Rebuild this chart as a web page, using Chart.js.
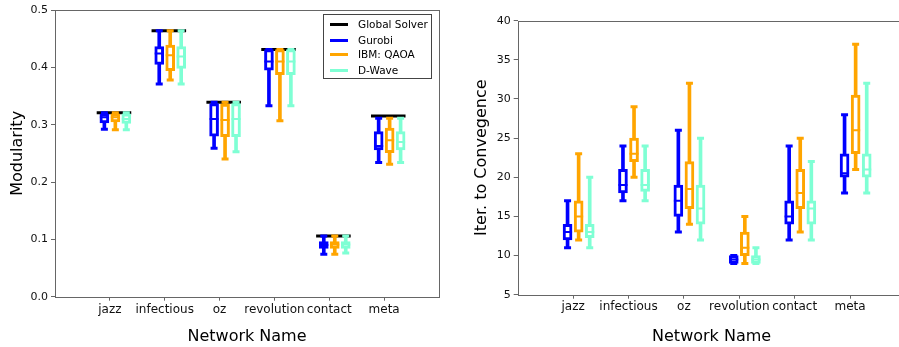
<!DOCTYPE html>
<html>
<head>
<meta charset="utf-8">
<script src="https://cdn.jsdelivr.net/npm/chart.js@4.4.1/dist/chart.umd.min.js"></script>
<style>
  body { margin: 0; width: 899px; height: 347px; overflow: hidden; background: #fff; position: relative; }
  #leftBox { position: absolute; left: 0; top: 0; width: 450px; height: 347px; }
  #rightBox { position: absolute; left: 450px; top: 0; width: 470px; height: 347px; }
  #legend { position: absolute; left: 323px; top: 14px; width: 109px; height: 65px; box-sizing: border-box;
    border: 1px solid #444; background: rgba(255,255,255,0.85); font: 10.5px "DejaVu Sans"; color: #000; }
  .row { position: absolute; left: 0; height: 14px; width: 108px; }
  .swatch { position: absolute; left: 6px; top: 6px; width: 18px; height: 3px; }
  .lbl { position: absolute; left: 34px; top: 0; line-height: 14px; white-space: nowrap; }
</style>
</head>
<body>
<div id="leftBox"><canvas id="modChart"></canvas></div>
<div id="rightBox"><canvas id="iterChart"></canvas></div>
<div id="legend"></div>
<script>
'use strict';

const networks = ['jazz', 'infectious', 'oz', 'revolution', 'contact', 'meta'];
const solvers = ['Gurobi', 'IBM: QAOA', 'D-Wave'];
const solverColors = ['#0000ff', '#ffa500', '#7fffd4'];

// global solver modularity, one per network
const globalModularity = [0.321, 0.464, 0.339, 0.431, 0.106, 0.315];

// box stats per network: [min, q1, median, q3, max]
const gurobiModularity = [
  [0.292, 0.303, 0.313, 0.319, 0.321],
  [0.371, 0.405, 0.424, 0.436, 0.464],
  [0.259, 0.280, 0.310, 0.337, 0.339],
  [0.333, 0.395, 0.410, 0.431, 0.431],
  [0.074, 0.084, 0.090, 0.096, 0.106],
  [0.234, 0.256, 0.263, 0.288, 0.311]
];
const qaoaModularity = [
  [0.291, 0.305, 0.313, 0.319, 0.321],
  [0.378, 0.394, 0.421, 0.439, 0.464],
  [0.240, 0.279, 0.308, 0.336, 0.339],
  [0.307, 0.387, 0.410, 0.431, 0.431],
  [0.074, 0.084, 0.091, 0.096, 0.106],
  [0.231, 0.251, 0.273, 0.294, 0.311]
];
const dwaveModularity = [
  [0.291, 0.302, 0.310, 0.319, 0.321],
  [0.371, 0.398, 0.419, 0.436, 0.464],
  [0.253, 0.279, 0.310, 0.337, 0.339],
  [0.333, 0.387, 0.410, 0.431, 0.431],
  [0.076, 0.084, 0.091, 0.096, 0.106],
  [0.234, 0.256, 0.270, 0.288, 0.311]
];

const gurobiIters = [
  [11, 12, 13, 14, 17],
  [17, 18, 19, 21, 24],
  [13, 15, 17, 19, 26],
  [9, 9, 9.5, 10, 10],
  [12, 14, 15, 17, 24],
  [18, 20, 20.5, 23, 28]
];
const qaoaIters = [
  [12, 13, 15, 17, 23],
  [20, 22, 23, 25, 29],
  [14, 16, 18.5, 22, 32],
  [9, 10, 11, 13, 15],
  [13, 16, 18, 21, 25],
  [21, 23, 26, 30.5, 37]
];
const dwaveIters = [
  [11, 12.3, 13, 14, 20],
  [17, 18.2, 19, 21, 24],
  [12, 14, 16, 19, 25],
  [9, 9, 9.5, 10, 11],
  [12, 14, 16, 17, 22],
  [18, 20, 21, 23, 32]
];

const modTicks = [0, 0.1, 0.2, 0.3, 0.4, 0.5];
const iterTicks = [5, 10, 15, 20, 25, 30, 35, 40];

Chart.defaults.font.family = '"DejaVu Sans", sans-serif';
Chart.defaults.font.size = 11;
Chart.defaults.color = '#111';

const boxOffsets = [-0.1, 0.1, 0.3];

const framePlugin = {
  id: 'frame',
  afterDatasetsDraw(chart) {
    const a = chart.chartArea;
    const ctx = chart.ctx;
    ctx.save();
    ctx.strokeStyle = '#666';
    ctx.lineWidth = 1;
    ctx.strokeRect(Math.round(a.left) + 0.5, Math.round(a.top) + 0.5,
      Math.round(a.right - a.left), Math.round(a.bottom - a.top));
    ctx.restore();
  }
};

function buildDatasets(statsList, globalVals) {
  const ds = [];
  statsList.forEach((stats, s) => {
    const color = solverColors[s];
    const xs = stats.map((_, i) => i + 1 + boxOffsets[s]);
    ds.push({
      type: 'bar', label: solvers[s] + ' whisker', order: 3,
      data: stats.map((st, i) => ({ x: xs[i], y: [st[0], st[4]] })),
      backgroundColor: color, borderWidth: 0, barThickness: 3, grouped: false
    });
    ds.push({
      type: 'bar', label: solvers[s], order: 2,
      data: stats.map((st, i) => ({ x: xs[i], y: [st[1], st[3]] })),
      backgroundColor: '#fff', borderColor: color, borderWidth: 3,
      borderSkipped: false, barThickness: 9, grouped: false
    });
    const caps = [];
    stats.forEach((st, i) => { caps.push({ x: xs[i], y: st[0] }, { x: xs[i], y: st[4] }); });
    ds.push({
      type: 'scatter', label: solvers[s] + ' caps', order: 1, data: caps,
      pointStyle: 'line', pointRadius: 3.5, borderColor: color, borderWidth: 3
    });
    ds.push({
      type: 'scatter', label: solvers[s] + ' median', order: 1,
      data: stats.map((st, i) => ({ x: xs[i], y: st[2] })),
      pointStyle: 'line', pointRadius: 4.5, borderColor: color, borderWidth: 2
    });
  });
  if (globalVals) {
    const pts = [];
    globalVals.forEach((g, i) => {
      pts.push({ x: i + 1 - 0.24, y: g }, { x: i + 1 + 0.39, y: g }, { x: i + 1.5, y: null });
    });
    ds.push({
      type: 'line', label: 'Global Solver', order: 5, data: pts,
      borderColor: '#000', borderWidth: 3, pointRadius: 0, spanGaps: false
    });
  }
  return ds;
}

function makeChart(canvasId, datasets, cfg) {
  return new Chart(document.getElementById(canvasId), {
    type: 'bar',
    data: { datasets: datasets },
    options: {
      responsive: true,
      maintainAspectRatio: false,
      animation: false,
      layout: { padding: cfg.padding },
      plugins: { legend: { display: false }, tooltip: { enabled: false } },
      scales: {
        x: {
          type: 'linear', min: 0, max: 7, offset: false,
          afterBuildTicks: (sc) => { sc.ticks = networks.map((n, i) => ({ value: i + 1 })); },
          afterFit: (sc) => { sc.height = cfg.xHeight; },
          ticks: { autoSkip: false, maxRotation: 0, minRotation: 0, padding: cfg.xPad,
            font: { size: 12 }, callback: (v) => networks[v - 1] },
          grid: { display: true, offset: false, drawOnChartArea: false, drawTicks: true, tickLength: 4, color: '#666' },
          border: { display: false },
          title: { display: true, text: 'Network Name', color: '#000',
            font: { size: 16 }, padding: { top: 0, bottom: 1 } }
        },
        y: {
          type: 'linear', min: cfg.yTicks[0], max: cfg.yTicks[cfg.yTicks.length - 1],
          afterBuildTicks: (sc) => { sc.ticks = cfg.yTicks.map((v) => ({ value: v })); },
          afterFit: (sc) => { sc.width = cfg.yWidth; },
          ticks: { padding: 3, callback: cfg.yFormat },
          grid: { display: true, drawOnChartArea: false, drawTicks: true, tickLength: 4, color: '#666' },
          border: { display: false },
          title: { display: true, text: cfg.yTitle, color: '#000',
            font: { size: 16 }, padding: { top: cfg.yTitlePad, bottom: 0 } }
        }
      }
    },
    plugins: [framePlugin]
  });
}

makeChart('modChart',
  buildDatasets([gurobiModularity, qaoaModularity, dwaveModularity], globalModularity),
  { padding: { top: 10, right: 11, left: 0, bottom: 0 }, xHeight: 50.3, xPad: 1.5, yWidth: 55,
    yTicks: modTicks, yFormat: (v) => v.toFixed(1), yTitle: 'Modularity', yTitlePad: 8 });

makeChart('iterChart',
  buildDatasets([gurobiIters, qaoaIters, dwaveIters], null),
  { padding: { top: 20.7, right: 14.5, left: 0, bottom: 0 }, xHeight: 52.3, xPad: 1, yWidth: 67.7,
    yTicks: iterTicks, yFormat: (v) => String(v), yTitle: 'Iter. to Convegence', yTitlePad: 22 });

// legend inside the left plot
const legendEl = document.getElementById('legend');
const legendItems = [['Global Solver', '#000']].concat(solvers.map((s, i) => [s, solverColors[i]]));
const rowTops = [2, 17.5, 32, 47.5];
legendItems.forEach((item, i) => {
  const row = document.createElement('div');
  row.className = 'row';
  row.style.top = rowTops[i] + 'px';
  row.innerHTML = '<span class="swatch" style="background:' + item[1] + '"></span><span class="lbl"></span>';
  row.querySelector('.lbl').textContent = item[0];
  legendEl.appendChild(row);
});
</script>
</body>
</html>
